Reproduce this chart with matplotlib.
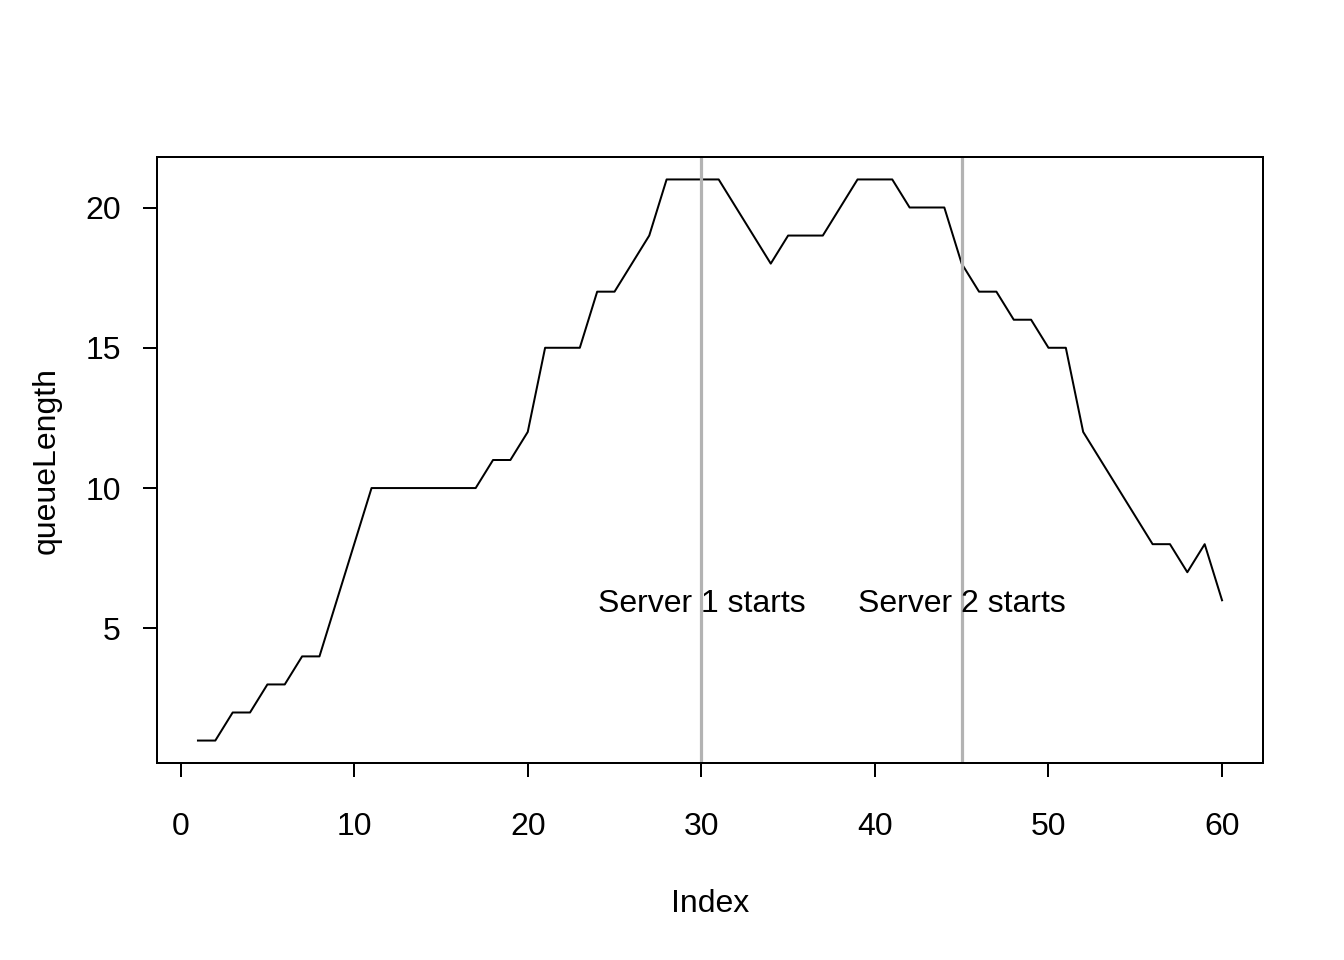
import numpy as np
import matplotlib
matplotlib.use("Agg")
import matplotlib.pyplot as plt

plt.rcParams['font.family'] = ['Liberation Sans', 'DejaVu Sans']

# queue length per index
queueLength = [1, 1, 2, 2, 3, 3, 4, 4, 6, 8,
               10, 10, 10, 10, 10, 10, 10, 11, 11, 12,
               15, 15, 15, 17, 17, 18, 19, 21, 21, 21,
               21, 20, 19, 18, 19, 19, 19, 20, 21, 21,
               21, 20, 20, 20, 18, 17, 17, 16, 16, 15,
               15, 12, 11, 10, 9, 8, 8, 7, 8, 6]
index = np.arange(1, len(queueLength) + 1)

server_starts = [30, 45]
server_labels = ["Server 1 starts", "Server 2 starts"]
label_y = 6

x_ticks = [0, 10, 20, 30, 40, 50, 60]
y_ticks = [5, 10, 15, 20]

fs = 23

fig = plt.figure(figsize=(13.44, 9.6), dpi=100)
ax = fig.add_axes([157 / 1344, 1 - 763 / 960, (1263 - 157) / 1344, (763 - 157) / 960])

ax.plot(index, queueLength, color='black', lw=1.44)

for xs, lab in zip(server_starts, server_labels):
    ax.axvline(xs, color='#B3B3B3', lw=2.3)
    ax.text(xs, label_y, lab, ha='center', va='center_baseline', fontsize=fs)

# R style: 4% padding on each side
xr = index.max() - index.min()
yr = max(queueLength) - min(queueLength)
ax.set_xlim(index.min() - 0.04 * xr, index.max() + 0.04 * xr)
ax.set_ylim(min(queueLength) - 0.04 * yr, max(queueLength) + 0.04 * yr)

ax.set_xticks(x_ticks)
ax.set_yticks(y_ticks)
ax.tick_params(axis='both', direction='out', length=10, width=1.44, labelsize=fs, color='black')
ax.tick_params(axis='x', pad=25)
ax.tick_params(axis='y', pad=16)
for s in ax.spines.values():
    s.set_linewidth(1.44)

ax.set_xlabel('Index', fontsize=fs, labelpad=34)
ax.set_ylabel('queueLength', fontsize=fs, labelpad=17)

fig.savefig('out.png', dpi=100)
